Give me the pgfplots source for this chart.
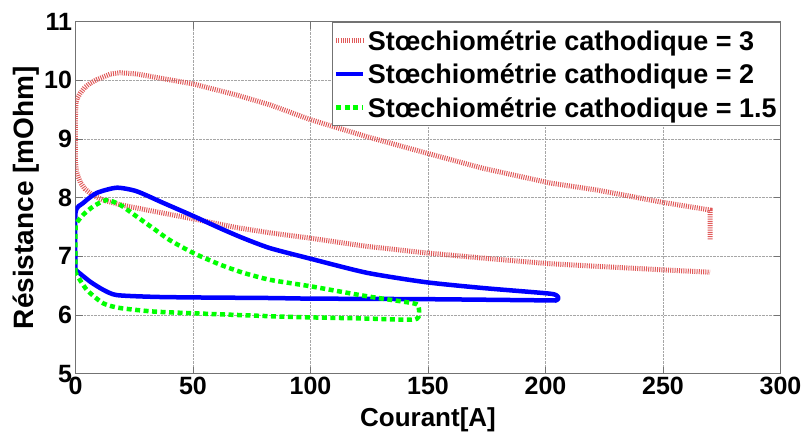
\documentclass[border=0pt]{standalone}
\usepackage{fontspec}
\setmainfont{Liberation Sans}
\usepackage{pgfplots}
\pgfplotsset{compat=1.18}
\definecolor{mred}{rgb}{0.88,0.35,0.35}
\begin{document}
\begin{tikzpicture}
\begin{axis}[
  at={(0,0)}, anchor=south west,
  scale only axis, width=705pt, height=352pt,
  xmin=0, xmax=300, ymin=5, ymax=11,
  xtick={0,50,...,300}, ytick={5,6,...,11},
  /pgf/number format/assume math mode=true,
  tick label style={font=\fontsize{25}{28}\selectfont\bfseries},
  xlabel style={font=\fontsize{26}{28}\selectfont\bfseries, at={(axis description cs:0.5,-0.1497)}, anchor=base},
  ylabel style={font=\fontsize{28}{30}\selectfont\bfseries, at={(axis description cs:-0.059,0.5)}, anchor=base},
  grid=major,
  major grid style={densely dotted, black!35, line width=0.6pt},
  axis line style={black!55, line width=0.8pt},
  tick style={black!55, line width=0.8pt},
  major tick length=7pt,
  tick align=inside,
  xlabel={Courant[A]},
  ylabel={Résistance [mOhm]},
  legend style={at={(1,1)}, anchor=north east, draw=black!55, line width=0.8pt,
    font=\fontsize{27}{30}\selectfont\bfseries, inner sep=1.5pt, row sep=0pt,
    nodes={inner ysep=4.5pt, inner xsep=2pt, text height=22pt, text depth=2.5pt},
    legend cell align=left},
  legend image code/.code={\draw[#1] (0pt,0pt) -- (27pt,0pt);},
]
\addplot[mred, line width=5pt, dash pattern=on 1pt off 1.2pt] coordinates {
(270,7.29) (270,7.79) (250,7.92) (222,8.13) (202,8.25) (173.5,8.50) (149.4,8.76)
(124,9.04) (100,9.33) (83,9.58) (68.6,9.75) (50,9.94) (40,10.01) (33,10.06) (26,10.11) (19,10.13)
(15,10.11) (12,10.06) (9,10.01) (6.2,9.95) (4,9.88) (2,9.78) (0.8,9.7) (0.2,9.62) (0,9.4) (0,8.6) (0.4,8.45)
(1.2,8.35) (2.2,8.25) (4,8.15) (6.2,8.08) (9,8.01) (11.8,7.96) (19,7.88) (33,7.77) (50,7.64) (68.6,7.49)
(83,7.40) (100,7.31) (124,7.17) (149,7.06) (173.5,6.97) (200,6.88) (222,6.83)
(250,6.77) (270,6.73)
};
\addlegendentry{Stœchiométrie cathodique = 3}
\addplot[blue, line width=4.5pt, line join=round, smooth, tension=0.4] coordinates {
(0,6.77) (0,7.74) (3.3,7.91) (9,8.08) (17.5,8.17) (26,8.11) (37.4,7.91) (50,7.69)
(61.5,7.48) (71.4,7.31) (82.8,7.14) (100,6.96) (124,6.72) (149,6.56) (173.5,6.46)
(200.5,6.37) (204.5,6.34) (205.5,6.29) (204.5,6.25) (200,6.25) (150,6.27)
(100,6.28) (82.8,6.29) (50,6.30) (33,6.31) (17.5,6.34) (11.8,6.43) (6.2,6.57) (0,6.77)
};
\addlegendentry{Stœchiométrie cathodique = 2}
\addplot[green, line width=4.5pt, dash pattern=on 5pt off 3.5pt, line join=round, smooth, tension=0.4] coordinates {
(0,6.72) (0,7.45) (0.5,7.57) (3.3,7.71) (7.5,7.85) (13.2,7.96) (18.9,7.88) (26,7.68)
(33,7.48) (40,7.28) (50,7.06) (61.5,6.86) (71.4,6.72) (82.8,6.60) (100,6.49)
(124,6.32) (143.8,6.20) (146,6.14) (146,5.97) (143,5.92) (124,5.94) (100,5.96)
(82.8,5.98) (50,6.03) (33,6.06) (18.9,6.12) (11.8,6.20) (4.8,6.43) (0,6.72)
};
\addlegendentry{Stœchiométrie cathodique = 1.5}
\end{axis}
\pgfresetboundingbox
\path (-75.5pt,-59pt) rectangle (730.5pt,373.7pt);
\end{tikzpicture}
\end{document}
